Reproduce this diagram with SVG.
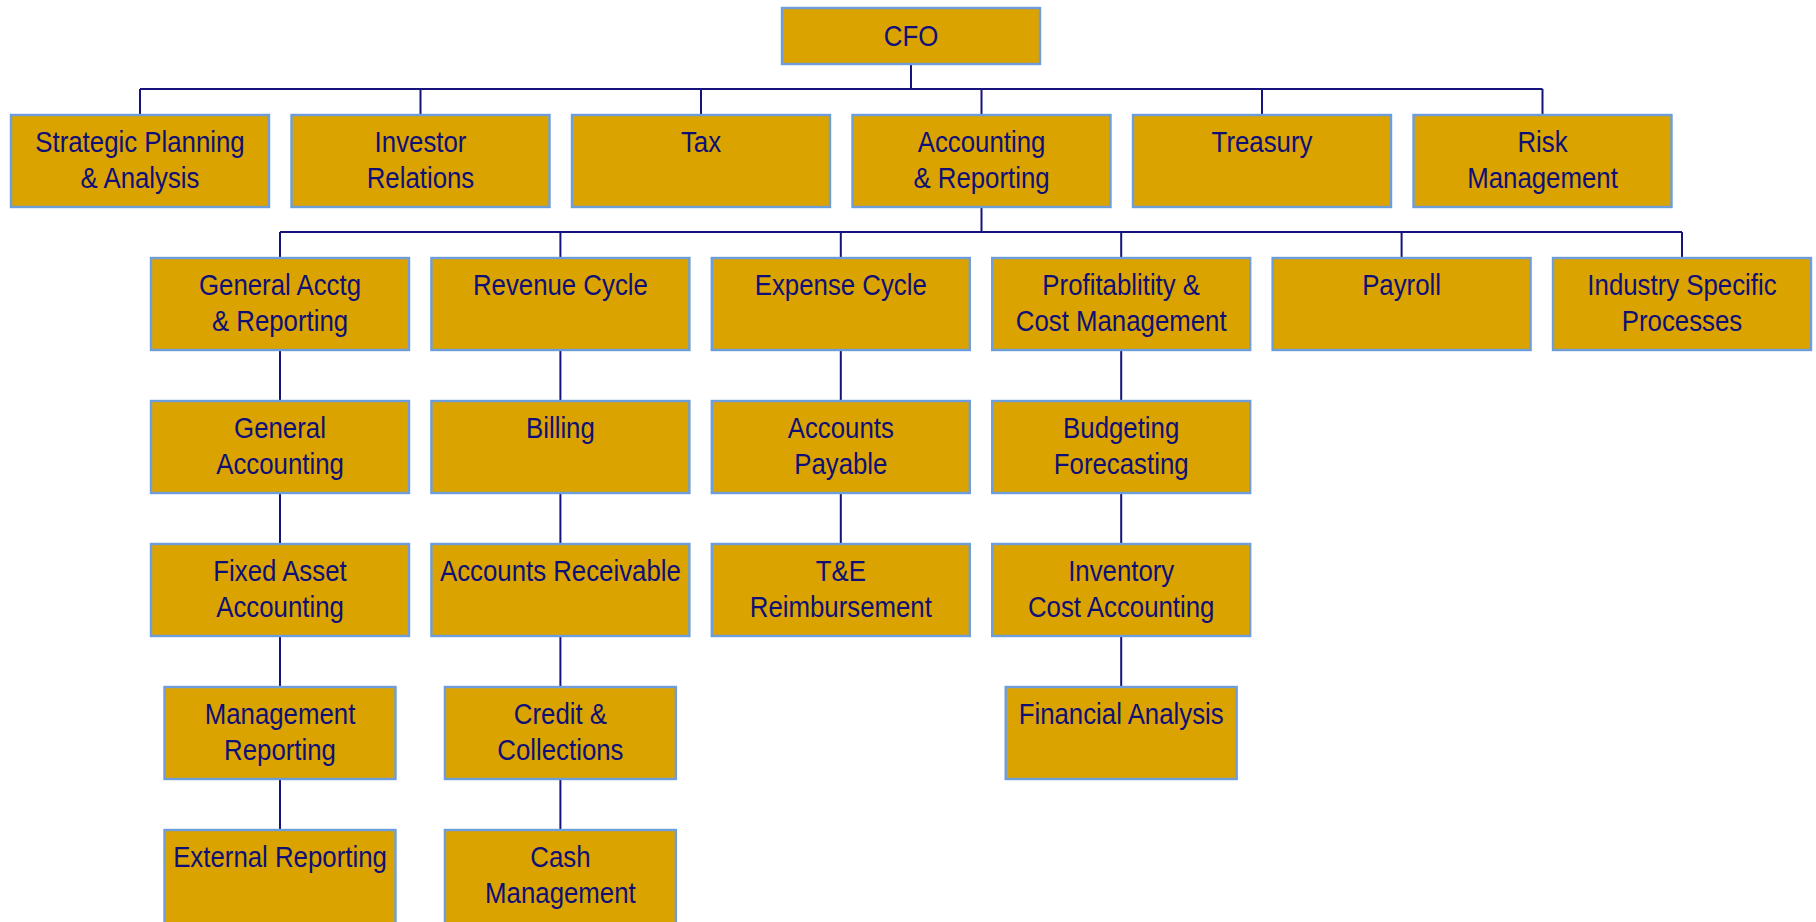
<svg xmlns="http://www.w3.org/2000/svg" width="1816" height="922" viewBox="0 0 1816 922">
  <style>
    .box { fill: #dba300; stroke: #6d9edb; stroke-width: 2.4; }
    .lbl { font-family: "Liberation Sans", Arial, sans-serif; font-size: 29.5px; fill: #0f0f78; text-anchor: middle; }
    .wire { stroke: #14147a; stroke-width: 2; fill: none; }
  </style>
  <rect width="1816" height="922" fill="#ffffff"/>

  <!-- connectors -->
  <g id="connectors" class="wire">
    <path d="M911 64V89M140 89H1542.5M140 89V115M420.5 89V115M701 89V115M981.5 89V115M1262 89V115M1542.5 89V115"/>
    <path d="M981.5 207V232M280 232H1682M280 232V258M560.4 232V258M840.8 232V258M1121.2 232V258M1401.6 232V258M1682 232V258"/>
    <path d="M280 350V830M560.4 350V830M840.8 350V544M1121.2 350V687"/>
  </g>

  <!-- top -->
  <g id="cfo"><rect class="box" x="782" y="8" width="258" height="56"/><text class="lbl" transform="translate(911 0) scale(0.875 1)" y="46">CFO</text></g>

  <!-- first level -->
  <g id="strategic-planning"><rect class="box" x="11" y="115" width="258" height="92"/><text class="lbl" transform="translate(140 0) scale(0.875 1)"><tspan x="0" y="152">Strategic Planning</tspan><tspan x="0" y="188">&amp; Analysis</tspan></text></g>
  <g id="investor-relations"><rect class="box" x="291.5" y="115" width="258" height="92"/><text class="lbl" transform="translate(420.5 0) scale(0.875 1)"><tspan x="0" y="152">Investor</tspan><tspan x="0" y="188">Relations</tspan></text></g>
  <g id="tax"><rect class="box" x="572" y="115" width="258" height="92"/><text class="lbl" transform="translate(701 0) scale(0.875 1)"><tspan x="0" y="152">Tax</tspan></text></g>
  <g id="accounting-reporting"><rect class="box" x="852.5" y="115" width="258" height="92"/><text class="lbl" transform="translate(981.5 0) scale(0.875 1)"><tspan x="0" y="152">Accounting</tspan><tspan x="0" y="188">&amp; Reporting</tspan></text></g>
  <g id="treasury"><rect class="box" x="1133" y="115" width="258" height="92"/><text class="lbl" transform="translate(1262 0) scale(0.875 1)"><tspan x="0" y="152">Treasury</tspan></text></g>
  <g id="risk-management"><rect class="box" x="1413.5" y="115" width="258" height="92"/><text class="lbl" transform="translate(1542.5 0) scale(0.875 1)"><tspan x="0" y="152">Risk</tspan><tspan x="0" y="188">Management</tspan></text></g>

  <!-- second level -->
  <g id="general-acctg"><rect class="box" x="151" y="258" width="258" height="92"/><text class="lbl" transform="translate(280 0) scale(0.875 1)"><tspan x="0" y="295">General Acctg</tspan><tspan x="0" y="331">&amp; Reporting</tspan></text></g>
  <g id="revenue-cycle"><rect class="box" x="431.4" y="258" width="258" height="92"/><text class="lbl" transform="translate(560.4 0) scale(0.875 1)"><tspan x="0" y="295">Revenue Cycle</tspan></text></g>
  <g id="expense-cycle"><rect class="box" x="711.8" y="258" width="258" height="92"/><text class="lbl" transform="translate(840.8 0) scale(0.875 1)"><tspan x="0" y="295">Expense Cycle</tspan></text></g>
  <g id="profitability"><rect class="box" x="992.2" y="258" width="258" height="92"/><text class="lbl" transform="translate(1121.2 0) scale(0.875 1)"><tspan x="0" y="295">Profitablitity &amp;</tspan><tspan x="0" y="331">Cost Management</tspan></text></g>
  <g id="payroll"><rect class="box" x="1272.6" y="258" width="258" height="92"/><text class="lbl" transform="translate(1401.6 0) scale(0.875 1)"><tspan x="0" y="295">Payroll</tspan></text></g>
  <g id="industry-specific"><rect class="box" x="1553" y="258" width="258" height="92"/><text class="lbl" transform="translate(1682 0) scale(0.875 1)"><tspan x="0" y="295">Industry Specific</tspan><tspan x="0" y="331">Processes</tspan></text></g>

  <!-- third level -->
  <g id="general-accounting"><rect class="box" x="151" y="401" width="258" height="92"/><text class="lbl" transform="translate(280 0) scale(0.875 1)"><tspan x="0" y="438">General</tspan><tspan x="0" y="474">Accounting</tspan></text></g>
  <g id="billing"><rect class="box" x="431.4" y="401" width="258" height="92"/><text class="lbl" transform="translate(560.4 0) scale(0.875 1)"><tspan x="0" y="438">Billing</tspan></text></g>
  <g id="accounts-payable"><rect class="box" x="711.8" y="401" width="258" height="92"/><text class="lbl" transform="translate(840.8 0) scale(0.875 1)"><tspan x="0" y="438">Accounts</tspan><tspan x="0" y="474">Payable</tspan></text></g>
  <g id="budgeting"><rect class="box" x="992.2" y="401" width="258" height="92"/><text class="lbl" transform="translate(1121.2 0) scale(0.875 1)"><tspan x="0" y="438">Budgeting</tspan><tspan x="0" y="474">Forecasting</tspan></text></g>

  <!-- fourth level -->
  <g id="fixed-asset"><rect class="box" x="151" y="544" width="258" height="92"/><text class="lbl" transform="translate(280 0) scale(0.875 1)"><tspan x="0" y="581">Fixed Asset</tspan><tspan x="0" y="617">Accounting</tspan></text></g>
  <g id="accounts-receivable"><rect class="box" x="431.4" y="544" width="258" height="92"/><text class="lbl" transform="translate(560.4 0) scale(0.875 1)"><tspan x="0" y="581">Accounts Receivable</tspan></text></g>
  <g id="te-reimbursement"><rect class="box" x="711.8" y="544" width="258" height="92"/><text class="lbl" transform="translate(840.8 0) scale(0.875 1)"><tspan x="0" y="581">T&amp;E</tspan><tspan x="0" y="617">Reimbursement</tspan></text></g>
  <g id="inventory"><rect class="box" x="992.2" y="544" width="258" height="92"/><text class="lbl" transform="translate(1121.2 0) scale(0.875 1)"><tspan x="0" y="581">Inventory</tspan><tspan x="0" y="617">Cost Accounting</tspan></text></g>

  <!-- fifth level -->
  <g id="management-reporting"><rect class="box" x="164.5" y="687" width="231" height="92"/><text class="lbl" transform="translate(280 0) scale(0.875 1)"><tspan x="0" y="724">Management</tspan><tspan x="0" y="760">Reporting</tspan></text></g>
  <g id="credit-collections"><rect class="box" x="444.9" y="687" width="231" height="92"/><text class="lbl" transform="translate(560.4 0) scale(0.875 1)"><tspan x="0" y="724">Credit &amp;</tspan><tspan x="0" y="760">Collections</tspan></text></g>
  <g id="financial-analysis"><rect class="box" x="1005.7" y="687" width="231" height="92"/><text class="lbl" transform="translate(1121.2 0) scale(0.875 1)"><tspan x="0" y="724">Financial Analysis</tspan></text></g>

  <!-- sixth level -->
  <g id="external-reporting"><rect class="box" x="164.5" y="830" width="231" height="110"/><text class="lbl" transform="translate(280 0) scale(0.875 1)"><tspan x="0" y="867">External Reporting</tspan></text></g>
  <g id="cash-management"><rect class="box" x="444.9" y="830" width="231" height="110"/><text class="lbl" transform="translate(560.4 0) scale(0.875 1)"><tspan x="0" y="867">Cash</tspan><tspan x="0" y="903">Management</tspan></text></g>
</svg>
